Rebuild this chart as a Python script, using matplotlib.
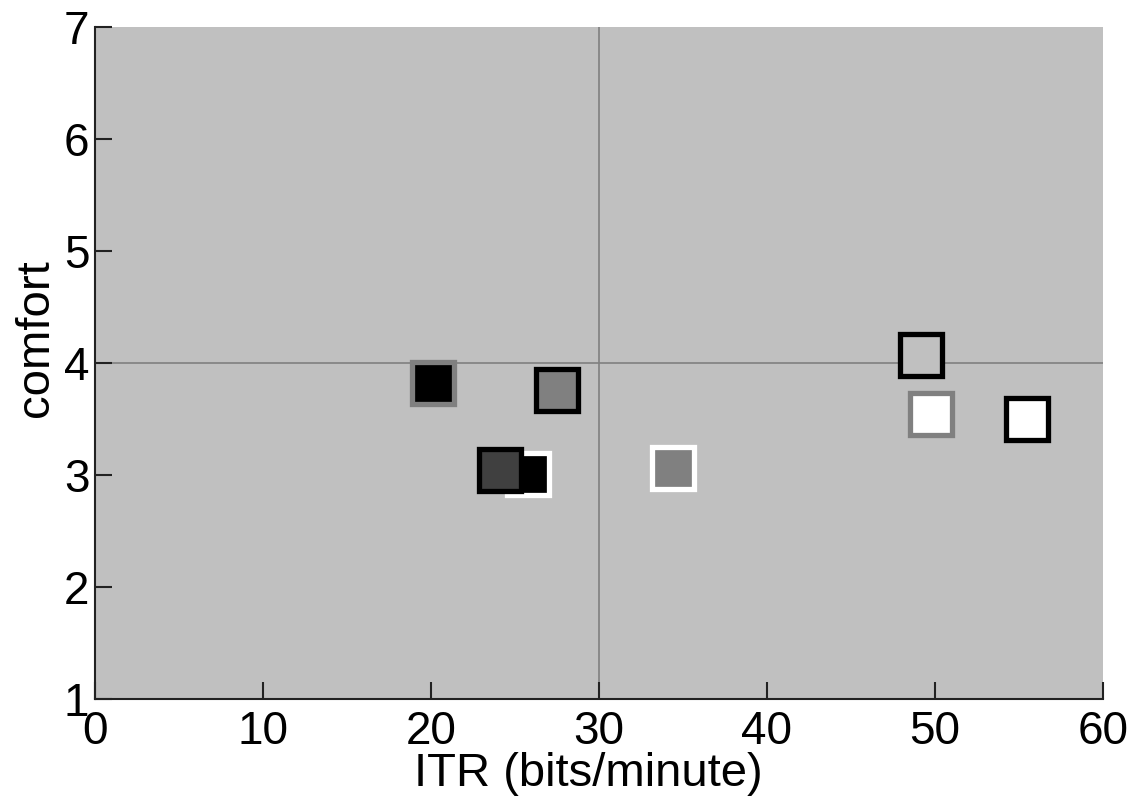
import matplotlib
matplotlib.use("Agg")
import matplotlib.pyplot as plt

plt.rcParams['font.family'] = ['Liberation Sans', 'DejaVu Sans']

itr = [20.1, 27.5, 25.8, 24.1, 34.4, 49.2, 49.8, 55.5]
comfort = [3.82, 3.76, 3.01, 3.05, 3.06, 4.07, 3.55, 3.50]
face_colors = ['#000000', '#808080', '#000000', '#404040', '#808080', '#c0c0c0', '#ffffff', '#ffffff']
edge_colors = ['#808080', '#000000', '#ffffff', '#000000', '#ffffff', '#000000', '#808080', '#000000']

x_ticks = [0, 10, 20, 30, 40, 50, 60]
y_ticks = [1, 2, 3, 4, 5, 6, 7]

fig = plt.figure(figsize=(11.45, 8), dpi=100)
ax = fig.add_axes([0.083, 0.126, 0.88, 0.840])
ax.set_facecolor('#c0c0c0')

ax.axvline(30, color='#808080', lw=1.2, zorder=1)
ax.axhline(4, color='#808080', lw=1.2, zorder=1)

for x, y, fc, ec in zip(itr, comfort, face_colors, edge_colors):
    ax.plot([x], [y], marker='s', markersize=30, markerfacecolor=fc,
            markeredgecolor=ec, markeredgewidth=3.8, linestyle='none', zorder=3)

ax.set_xlim(0, 60)
ax.set_ylim(1, 7)
ax.set_xticks(x_ticks)
ax.set_yticks(y_ticks)
for s in ['top', 'right']:
    ax.spines[s].set_visible(False)
for s in ['left', 'bottom']:
    ax.spines[s].set_linewidth(1.5)
    ax.spines[s].set_color('#222222')
ax.tick_params(direction='in', length=12, width=1.5, labelsize=33, color='#222222')
ax.tick_params(axis='x', pad=8)
ax.tick_params(axis='y', pad=4)
ax.set_xlabel('ITR (bits/minute)', fontsize=34, labelpad=-2)
ax.set_ylabel('comfort', fontsize=34, labelpad=4)
ax.xaxis.label.set_x(0.49)
ax.yaxis.label.set_y(0.537)

fig.savefig('out.png', dpi=100)
